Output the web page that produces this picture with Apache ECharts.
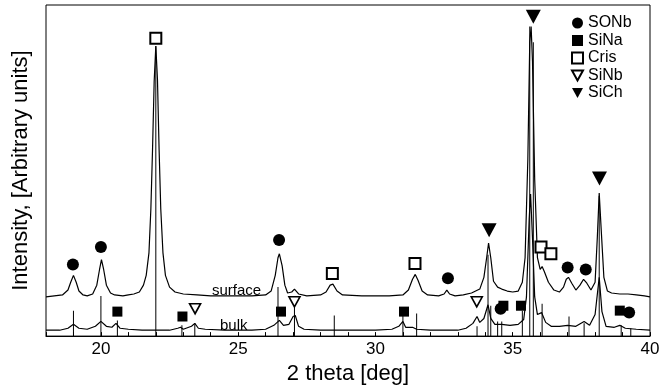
<!DOCTYPE html>
<html>
<head>
<meta charset="utf-8">
<script src="https://cdn.jsdelivr.net/npm/echarts@6/dist/echarts.min.js"></script>
<style>
html, body { margin: 0; padding: 0; background: #fff; }
#chart { width: 670px; height: 390px; }
</style>
</head>
<body>
<div id="chart"></div>
<script>
// surface pattern, [2theta, intensity]
const surface = [
	[18.0, 40], [18.3, 41], [18.6, 42], [18.8, 47], [18.9, 55], [19.0, 62], [19.1, 55], [19.2, 46], [19.35, 42],
	[19.5, 41], [19.7, 43], [19.85, 52], [19.95, 68], [20.02, 78], [20.1, 68], [20.2, 52], [20.35, 44], [20.5, 42],
	[20.8, 41], [21.0, 42], [21.2, 43], [21.4, 45], [21.55, 52], [21.65, 62], [21.75, 85], [21.82, 130], [21.88, 190],
	[21.94, 260], [22.0, 296], [22.06, 262], [22.12, 190], [22.18, 130], [22.26, 85], [22.35, 62], [22.5, 50],
	[22.7, 45], [23.0, 43], [23.5, 42], [24.0, 41], [24.5, 41], [25.0, 41], [25.5, 41], [26.0, 42], [26.2, 46],
	[26.35, 62], [26.45, 80], [26.5, 84], [26.6, 72], [26.7, 52], [26.8, 44], [26.95, 45], [27.05, 48], [27.2, 43],
	[27.5, 41], [28.0, 42], [28.2, 45], [28.35, 52], [28.45, 53], [28.6, 46], [28.8, 42], [29.5, 41], [30.0, 41],
	[30.5, 41], [31.0, 42], [31.2, 47], [31.35, 58], [31.45, 63], [31.55, 57], [31.7, 46], [31.9, 42], [32.3, 41],
	[32.5, 43], [32.6, 47], [32.7, 43], [32.9, 41], [33.2, 42], [33.5, 44], [33.8, 48], [33.95, 60], [34.05, 80],
	[34.12, 95], [34.2, 80], [34.3, 56], [34.45, 50], [34.6, 48], [34.8, 46], [35.0, 45], [35.2, 46], [35.35, 55],
	[35.45, 80], [35.55, 180], [35.62, 300], [35.67, 316], [35.72, 280], [35.8, 160], [35.9, 80], [36.0, 68],
	[36.07, 71], [36.15, 66], [36.3, 55], [36.5, 47], [36.7, 45], [36.85, 50], [36.95, 58], [37.03, 60], [37.15, 54],
	[37.3, 47], [37.45, 52], [37.58, 58], [37.7, 54], [37.85, 47], [38.0, 55], [38.08, 100], [38.15, 146],
	[38.22, 110], [38.32, 60], [38.45, 46], [38.6, 44], [38.9, 43], [39.2, 43], [39.5, 42], [39.8, 41], [40.0, 40]
];

// bulk pattern
const bulk = [
	[18.0, 6], [18.5, 6], [18.8, 8], [19.0, 12], [19.2, 8], [19.5, 7], [19.8, 10], [20.0, 15], [20.2, 10], [20.4, 9],
	[20.55, 13], [20.7, 8], [21.0, 7], [21.5, 6], [22.0, 6], [22.5, 6], [22.8, 8], [22.9, 9], [23.0, 7], [23.3, 10],
	[23.42, 13], [23.55, 8], [23.8, 7], [24.5, 6], [25.0, 6], [25.5, 6], [26.0, 7], [26.3, 11], [26.5, 16], [26.65, 11],
	[26.85, 12], [27.0, 20], [27.08, 21], [27.2, 10], [27.4, 7], [28.0, 6], [29.0, 6], [30.0, 6], [30.6, 7], [30.85, 10],
	[31.0, 15], [31.1, 9], [31.35, 9], [31.5, 7], [32.0, 6], [32.5, 6], [33.0, 6], [33.3, 8], [33.55, 13], [33.7, 20],
	[33.8, 14], [33.95, 18], [34.1, 32], [34.2, 18], [34.35, 12], [34.6, 12], [34.9, 11], [35.2, 12], [35.4, 17],
	[35.5, 40], [35.6, 120], [35.65, 145], [35.72, 100], [35.8, 40], [35.9, 22], [36.05, 24], [36.2, 14], [36.4, 10],
	[36.7, 10], [37.0, 11], [37.3, 10], [37.6, 15], [37.8, 11], [38.0, 22], [38.15, 60], [38.25, 25], [38.4, 10],
	[38.7, 9], [38.9, 11], [39.1, 8], [39.5, 7], [40.0, 6]
];

// reference stick lines
const sticks = [
	[19.0, 26], [20.0, 41], [20.6, 16], [22.0, 296], [22.95, 11], [23.42, 13], [26.45, 50], [27.05, 35], [28.5, 21],
	[31.0, 23], [31.5, 23], [33.7, 10], [34.1, 83], [34.2, 31], [34.45, 15], [34.6, 15], [35.35, 26], [35.62, 316],
	[35.75, 300], [36.07, 33], [37.05, 20], [37.6, 13], [38.15, 143], [38.95, 11], [39.3, 8]
];

// phase markers
const sonb = [[18.98, 73], [20.0, 91], [26.49, 98], [32.64, 59], [34.56, 28], [37.0, 70], [37.66, 68], [39.24, 24]];
const sina = [[20.6, 25], [22.97, 20], [26.56, 25], [31.04, 25], [34.66, 31], [35.3, 31], [38.9, 26]];
const cris = [[22.0, 304], [28.43, 64], [31.44, 74], [36.03, 91], [36.39, 84]];
const sinb = [[23.43, 28], [27.05, 35], [33.69, 35]];
const sich = [[34.14, 108], [35.75, 326], [38.16, 161]];

const xTicks = [20, 25, 30, 35, 40];

const font = 'Liberation Sans, Arial, sans-serif';
const downTri = 'path://M0,0 L10,0 L5,9 Z';
const chart = echarts.init(document.getElementById('chart'));

const option = {
	animation: false,
	backgroundColor: '#fff',
	textStyle: { fontFamily: font, color: '#000' },
	grid: {
		left: 46, right: 20, top: 5, bottom: 47,
		show: true, borderColor: '#000', borderWidth: 1
	},
	legend: {
		orient: 'vertical',
		left: 566, top: 10,
		itemWidth: 11, itemHeight: 11, itemGap: 1.5,
		selectedMode: false,
		textStyle: { fontFamily: font, fontSize: 16, color: '#000', lineHeight: 16 },
		data: [
			'SONb', 'SiNa', 'Cris',
			{ name: 'SiNb', icon: downTri },
			{ name: 'SiCh', icon: downTri }
		]
	},
	xAxis: {
		type: 'value', min: 18, max: 40, interval: 1,
		name: '2 theta [deg]', nameLocation: 'middle', nameGap: 21,
		nameTextStyle: { fontSize: 22, color: '#000', fontFamily: font },
		axisLine: { lineStyle: { color: '#000', width: 1 } },
		axisTick: { inside: true, length: 4, lineStyle: { color: '#000' } },
		axisLabel: {
			color: '#000', fontSize: 17, margin: 5, fontFamily: font,
			formatter: v => xTicks.indexOf(v) >= 0 ? String(v) : ''
		},
		splitLine: { show: false }
	},
	yAxis: {
		type: 'value', min: 0, max: 338,
		name: 'Intensity, [Arbitrary units]', nameLocation: 'middle', nameGap: 14,
		nameTextStyle: { fontSize: 22, color: '#000', fontFamily: font },
		axisLine: { show: false }, axisTick: { show: false },
		axisLabel: { show: false }, splitLine: { show: false }
	},
	graphic: [
		{ type: 'text', left: 212, top: 283, style: { text: 'surface', font: '15px ' + font, fill: '#000' } },
		{ type: 'text', left: 220, top: 318, style: { text: 'bulk', font: '15px ' + font, fill: '#000' } }
	],
	series: [
		{
			name: 'sticks', type: 'bar', data: sticks, barWidth: 1,
			itemStyle: { color: '#000' }, z: 1, silent: true
		},
		{
			name: 'surface', type: 'line', data: surface, showSymbol: false,
			lineStyle: { color: '#000', width: 1.2 }, z: 2
		},
		{
			name: 'bulk', type: 'line', data: bulk, showSymbol: false,
			lineStyle: { color: '#000', width: 1.2 }, z: 2
		},
		{
			name: 'SONb', type: 'scatter', data: sonb, symbol: 'circle', symbolSize: 12,
			itemStyle: { color: '#000', opacity: 1 }, z: 5
		},
		{
			name: 'SiNa', type: 'scatter', data: sina, symbol: 'rect', symbolSize: 10,
			itemStyle: { color: '#000', opacity: 1 }, z: 5
		},
		{
			name: 'Cris', type: 'scatter', data: cris, symbol: 'rect', symbolSize: 11,
			itemStyle: { color: '#fff', borderColor: '#000', borderWidth: 2, opacity: 1 }, z: 5
		},
		{
			name: 'SiNb', type: 'scatter', data: sinb, symbol: 'triangle', symbolRotate: 180, symbolSize: [11, 10],
			itemStyle: { color: '#fff', borderColor: '#000', borderWidth: 1.6, opacity: 1 }, z: 5
		},
		{
			name: 'SiCh', type: 'scatter', data: sich, symbol: 'triangle', symbolRotate: 180, symbolSize: [15, 14],
			itemStyle: { color: '#000', opacity: 1 }, z: 5
		}
	]
};

chart.setOption(option);
</script>
</body>
</html>
